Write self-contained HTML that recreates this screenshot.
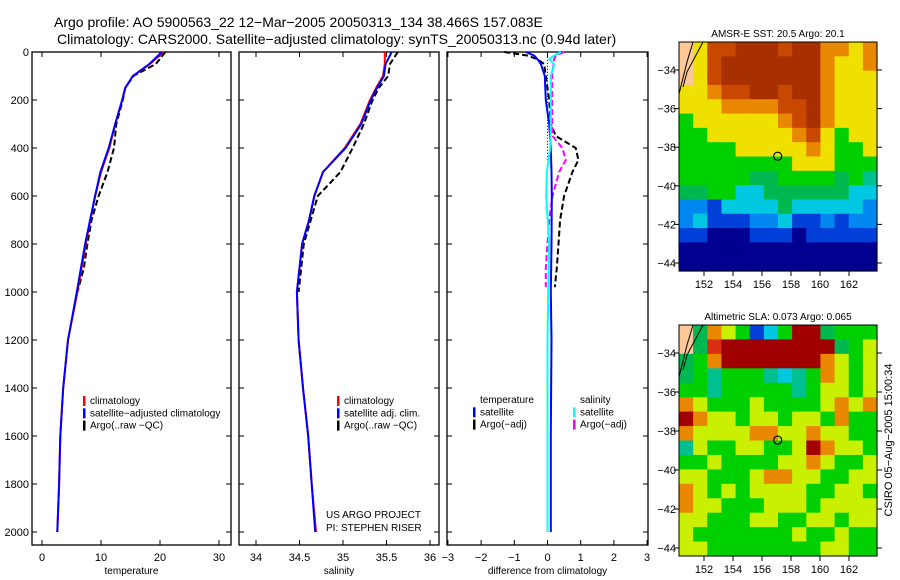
<!DOCTYPE html>
<html><head><meta charset="utf-8"><style>
body{margin:0;background:#fff}
svg{display:block;font-family:"Liberation Sans",sans-serif}
</style></head><body>
<svg id="c" width="900" height="580" viewBox="0 0 900 580">
<text x="54" y="27" font-size="14">Argo profile: AO 5900563_22 12−Mar−2005 20050313_134 38.466S 157.083E</text>
<text x="57" y="44" font-size="14">Climatology: CARS2000. Satellite−adjusted climatology: synTS_20050313.nc (0.94d later)</text>
</svg>
<script>
const depth=[0,50,100,150,200,300,400,500,600,800,1000,1200,1400,1600,1800,2000];
const tempClim=[20.6,18.3,15.4,14.1,13.6,12.4,11.4,10.0,9.0,7.4,6.0,4.4,3.6,3.1,2.9,2.6];
const tempSat=[20.3,18.2,15.4,14.1,13.6,12.4,11.3,9.9,9.0,7.3,5.9,4.4,3.6,3.1,2.9,2.6];
const argoDepth=[0,50,100,150,200,300,400,500,600,700,800,900,1000];
const tempArgo=[20.9,19.3,15.5,14.1,13.7,12.6,12.2,11.1,9.6,8.4,7.7,7.1,6.0];
const salClim=[35.48,35.48,35.46,35.38,35.31,35.2,35.02,34.77,34.67,34.61,34.53,34.47,34.49,34.54,34.6,34.64,34.69];
const salSat=[35.56,35.49,35.47,35.39,35.32,35.21,35.03,34.77,34.67,34.61,34.53,34.47,34.49,34.54,34.6,34.64,34.68];
const salDepth=[0,50,100,150,200,300,400,500,600,700,800,1000,1200,1400,1600,1800,2000];
const salArgo=[35.63,35.54,35.52,35.41,35.34,35.24,35.11,34.97,34.71,34.63,34.55,34.49];
const diffDepth=[0,15,30,50,100,200,300,400,500,600,800,1000,1200,1600,2000];
const dTempSat=[-0.65,-0.4,-0.3,-0.2,-0.08,-0.05,0.05,0.1,0.12,0.13,0.12,0.1,0.12,0.1,0.1];
const dSalSat=[0.4,0.2,0.05,0.2,0.1,0.1,0.1,0.08,-0.02,-0.04,0.05,0.02,0.0,0.0,0.0];
const dArgoDepth=[0,15,30,50,100,200,300,350,400,450,500,600,700,800,900,980];
const dTempArgo=[-1.3,-0.6,-0.3,-0.1,-0.05,0.05,0.1,0.25,0.85,0.93,0.75,0.5,0.38,0.33,0.28,0.22];
const dSalArgo=[0.5,0.25,0.2,0.18,0.14,0.14,0.14,0.15,0.45,0.55,0.35,0.15,0.05,0.0,-0.05,-0.05];
const depthTicks=[0,200,400,600,800,1000,1200,1400,1600,1800,2000];
const tempTicks=[0,10,20,30];
const salTicks=[34,34.5,35,35.5,36];
const diffTicks=[-3,-2,-1,0,1,2,3];
const sstGrid=["LYOORRRORRooYo","LYORRRRRRRoYYo","LYORRRRRRRoYYY","YYoOORRORRoYYY","YYYooooOORoYYY","GYYYYYYoORoYYY","GGYYYYYYoOYGYY","GGGGYYYYYoYGGY","GGGGGGGGYYYGGG","GGGGGggGGGGgGT","ggGGCCggggggCC","BBbCCCCgCCCCCB","BCbbbBBCbbBbBB","bbNNNbbbNbbbbb","NNNNNNNNNNNNNN","NNNNNNNNNNNNNN"];
const slaGrid=["LgoyGbCGDDgGGG","LgrDDDDDDDDgGy","gGoDDDDDDDoyGy","gGTGGGTCTGoyGy","GGTGGGGGTGyyGy","oyGGGyGGGGyoyo","DoyyGyyGyyGoGG","oyyyyooyyoyyGG","TyGGyyGGyDoyyG","GGyGGGGyyoyGGy","yyGGGyooyyGGyy","oyGyGyyyyGGyyG","oyyGGGyyyGyyyy","yyGGGyyGGyyGyy","yGGGGGGGyGGyGG","yyGGGGGGGGyyGG"];
const latTicks=[-34,-36,-38,-40,-42,-44];
const lonTicks=[152,154,156,158,160,162];
const floatLon=157.083, floatLat=-38.466;

const NS="http://www.w3.org/2000/svg";
const svg=document.getElementById('c');
function el(t,a,p){const e=document.createElementNS(NS,t);for(const k in a)e.setAttribute(k,a[k]);(p||svg).appendChild(e);return e;}
function txt(x,y,s,a,p){const e=el('text',Object.assign({x:x,y:y,'font-size':11},a||{}),p);e.textContent=s;return e;}
const Y=d=>52+0.24*d;
function panel(x0,x1,X,ticks,fmt,title,name,showY){
  const g=el('g',{});
  
  
  const r=el('rect',{x:x0,y:52,width:x1-x0,height:493,fill:'none',stroke:'#000','stroke-width':1.3},g);
  
  
  depthTicks.forEach(d=>{
    el('line',{x1:x0,x2:x0+5,y1:Y(d),y2:Y(d),stroke:'#000'},g);
    el('line',{x1:x1,x2:x1-5,y1:Y(d),y2:Y(d),stroke:'#000'},g);
    if(showY){const t=txt(29,Y(d)+4,String(d),{'text-anchor':'end'},g);
      
      }
  });
  ticks.forEach(v=>{
    el('line',{x1:X(v),x2:X(v),y1:52,y2:57,stroke:'#000'},g);
    el('line',{x1:X(v),x2:X(v),y1:545,y2:540,stroke:'#000'},g);
    const t=txt(X(v),561,fmt(v),{'text-anchor':'middle'},g);
    
    
  });
  const t=txt((x0+x1)/2,574,title,{'text-anchor':'middle','font-size':10},g);
  
  
  return g;
}
function line(g,X,vals,deps,color,dash,name,w){
  const pts=vals.map((v,i)=>X(v).toFixed(1)+','+Y(deps[i]).toFixed(1)).join(' ');
  const p=el('polyline',{points:pts,fill:'none',stroke:color,'stroke-width':w||2,'stroke-dasharray':dash||'none'},g);
  
  
}
function legend(g,x,y,items){
  items.forEach((it,i)=>{
    if(it[0]) el('rect',{x:x,y:y+i*12.3-8,width:2.5,height:10,fill:it[0]},g);
    const t=txt(x+7,y+i*12.3,it[1],{'font-size':10},g);
    
    
  });
}
// temperature
const XT=v=>42+5.9*v;
const g1=panel(32,231,XT,tempTicks,v=>String(v),'temperature','temperature-panel',true);
line(g1,XT,tempArgo,argoDepth,'#000','6,3','temp-argo-line');
line(g1,XT,tempClim,depth,'#f00',null,'temp-climatology-line');
line(g1,XT,tempSat,depth,'#00f',null,'temp-satellite-line');
legend(g1,83,404,[['#f00','climatology'],['#00f','satellite−adjusted climatology'],['#000','Argo(..raw −QC)']]);
// salinity
const XS=v=>256+87*(v-34);
const g2=panel(239,439,XS,salTicks,v=>String(v),'salinity','salinity-panel',false);
line(g2,XS,salArgo,salDepth.slice(0,salArgo.length),'#000','6,3','sal-argo-line');
line(g2,XS,salClim,salDepth,'#f00',null,'sal-climatology-line');
line(g2,XS,salSat,salDepth,'#00f',null,'sal-satellite-line');
legend(g2,337,404,[['#f00','climatology'],['#00f','satellite adj. clim.'],['#000','Argo(..raw −QC)']]);
let t1=txt(326,518,'US ARGO PROJECT',{'font-size':10},g2);


let t2=txt(326,531,'PI: STEPHEN RISER',{'font-size':10},g2);


// difference
const XD=v=>547.5+33.2*v;
const g3=panel(447,648,XD,diffTicks,v=>v<0?'−'+(-v):String(v),'difference from climatology','difference-panel',false);
el('line',{x1:XD(0),x2:XD(0),y1:Y(20),y2:Y(450),stroke:'#000','stroke-dasharray':'1,2'},g3);
line(g3,XD,dTempArgo,dArgoDepth,'#000','6,3','diff-temp-argo-line');
line(g3,XD,dSalArgo,dArgoDepth,'#f0f','6,3','diff-sal-argo-line');
line(g3,XD,dTempSat,diffDepth,'#00f',null,'diff-temp-satellite-line');
line(g3,XD,dSalSat,diffDepth,'#0ff',null,'diff-sal-satellite-line');
legend(g3,473,403,[[null,'temperature'],['#00f','satellite'],['#000','Argo(−adj)']]);
legend(g3,573,403,[[null,'salinity'],['#0ff','satellite'],['#f0f','Argo(−adj)']]);
// maps
const pal={L:'#fcc898',R:'#a83000',O:'#c84800',o:'#e88800',Y:'#f0e000',y:'#c8f000',G:'#00d000',g:'#00b850',T:'#00c090',C:'#00c8e0',B:'#0088f0',b:'#0040d8',N:'#000090',D:'#a00000',r:'#d83010'};
function map(y0,y1,grid,title,name){
  const x0=679,x1=877;
  const g=el('g',{});
  
  
  const rows=grid.length,cols=grid[0].length,cw=(x1-x0)/cols,ch=(y1-y0)/rows;
  grid.forEach((row,i)=>{for(let j=0;j<cols;j++){
    const c=el('rect',{x:x0+j*cw,y:y0+i*ch,width:cw+0.6,height:ch+0.6,fill:pal[row[j]]},g);
    
    
  }});
  const lon=v=>704+(v-152)*14.5, lat=v=>(y0+28)+(-34-v)*((y1-y0-36)/10);
  el('polyline',{points:`${x0+14},${y0} ${x0+8},${y0+20} ${x0+3},${y0+40} ${x0},${y0+52}`,fill:'none',stroke:'#000'},g);
  el('polyline',{points:`${x0+24},${y0} ${x0+16},${y0+15} ${x0+8},${y0+30} ${x0+4},${y0+45}`,fill:'none',stroke:'#000'},g);
  el('rect',{x:x0,y:y0,width:x1-x0,height:y1-y0,fill:'none',stroke:'#000'},g);
  const c=el('circle',{cx:lon(floatLon),cy:lat(floatLat),r:4,fill:'none',stroke:'#000','stroke-width':1.2},g);
  
  
  latTicks.forEach(v=>{
    el('line',{x1:x1,x2:x1+5,y1:lat(v),y2:lat(v),stroke:'#000'},g);
    el('line',{x1:x0-5,x2:x0,y1:lat(v),y2:lat(v),stroke:'#000'},g);
    const t=txt(x0-3,lat(v)+4,'−'+(-v),{'text-anchor':'end'},g);
    
    
  });
  lonTicks.forEach(v=>{
    el('line',{x1:lon(v),x2:lon(v),y1:y1,y2:y1+5,stroke:'#000'},g);
    const t=txt(lon(v),y1+17,String(v),{'text-anchor':'middle'},g);
    
    
  });
  const tt=txt((x0+x1)/2,y0-5,title,{'text-anchor':'middle','font-size':10},g);
  
  
}
map(42,271,sstGrid,'AMSR-E SST: 20.5 Argo: 20.1','sst-map');
map(325,556,slaGrid,'Altimetric SLA: 0.073 Argo: 0.065','sla-map');
const cs=txt(0,0,'CSIRO 05−Aug−2005 15:00:34',{'font-size':11,'text-anchor':'middle',transform:'translate(892,440) rotate(-90)'});


</script>
</body></html>
